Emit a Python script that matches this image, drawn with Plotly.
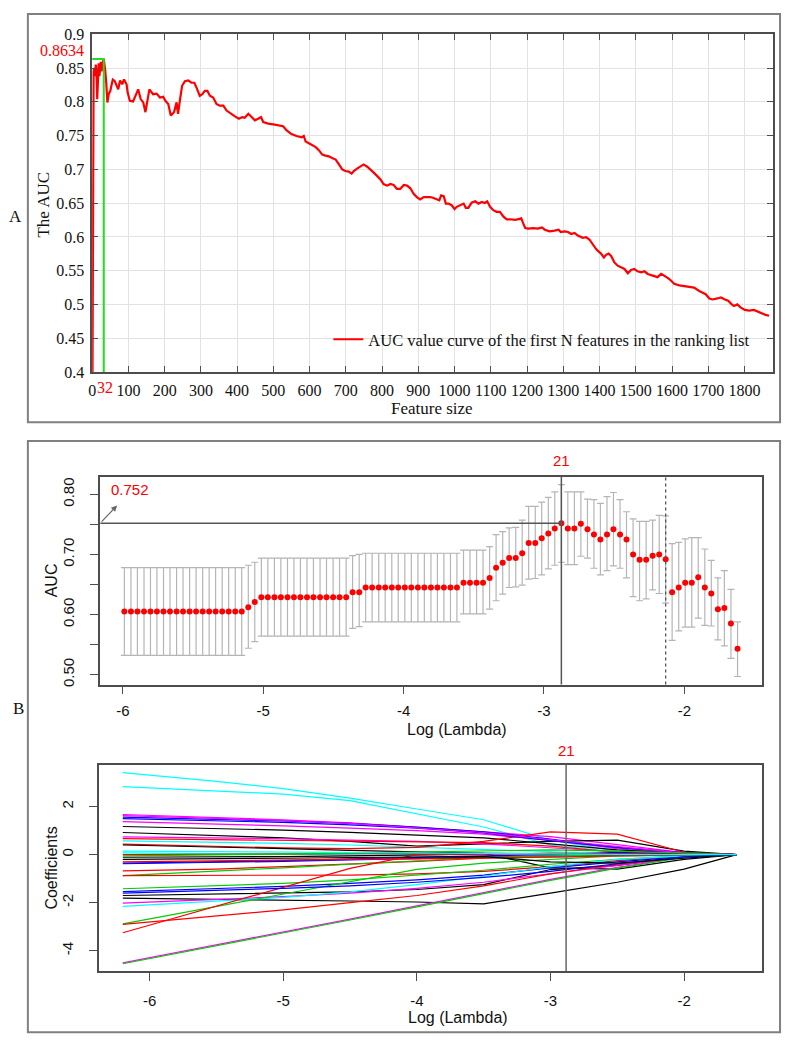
import plotly.graph_objects as go

W, H = 788, 1050

# ---------------- Panel A data ----------------
feature_size = [1, 2, 4, 6, 8, 10, 12, 14, 16, 18, 20, 22, 24, 26, 28, 30, 32, 34, 36, 39, 42, 46, 50, 54, 57,
                62, 66, 72, 77, 83, 88, 95, 98, 104, 113, 120, 127, 134, 141, 147, 153, 158, 168, 178, 187,
                196, 202, 210, 217, 226, 233, 237, 242, 248, 256, 265, 274, 282, 288, 297, 304, 311, 318, 325,
                334, 343, 352, 362, 371, 383, 394, 405, 414, 421, 431, 440, 449, 458, 466, 472, 486, 500, 513,
                527, 536, 550, 564, 578, 584, 589, 598, 607, 617, 626, 635, 644, 653, 662, 672, 681, 690, 699,
                708, 716, 722, 731, 740, 749, 759, 768, 777, 786, 795, 804, 814, 823, 832, 841, 850, 860, 869,
                878, 887, 896, 905, 915, 924, 933, 942, 951, 958, 963, 970, 976, 983, 992, 1000, 1006, 1015,
                1025, 1031, 1038, 1047, 1057, 1066, 1075, 1084, 1090, 1098, 1107, 1116, 1125, 1135, 1144, 1153,
                1167, 1180, 1184, 1189, 1195, 1203, 1217, 1230, 1241, 1249, 1262, 1276, 1287, 1293, 1304, 1313,
                1322, 1331, 1340, 1354, 1363, 1372, 1382, 1391, 1404, 1412, 1418, 1425, 1432, 1441, 1450, 1460,
                1469, 1478, 1487, 1496, 1505, 1515, 1524, 1533, 1547, 1560, 1570, 1579, 1588, 1597, 1606, 1620,
                1634, 1647, 1661, 1675, 1684, 1693, 1703, 1712, 1725, 1735, 1746, 1755, 1764, 1771, 1780, 1790,
                1801, 1813, 1826, 1837, 1849, 1858, 1868]
auc_value = [0.40, 0.825, 0.845, 0.850, 0.838, 0.855, 0.845, 0.804, 0.850, 0.857, 0.838, 0.852, 0.859, 0.845,
             0.857, 0.860, 0.8634, 0.856, 0.847, 0.828, 0.799, 0.812, 0.816, 0.826, 0.833, 0.831, 0.826, 0.8185,
             0.8316, 0.826, 0.8331, 0.826, 0.8137, 0.8016, 0.8006, 0.8089, 0.8185, 0.804, 0.7992, 0.7847,
             0.804, 0.8185, 0.8113, 0.8122, 0.8064, 0.8074, 0.8016, 0.7968, 0.7798, 0.7847, 0.7992, 0.7822,
             0.8016, 0.8234, 0.8306, 0.8316, 0.8282, 0.8282, 0.821, 0.8089, 0.8113, 0.8161, 0.8161, 0.8089,
             0.8064, 0.7968, 0.7943, 0.7943, 0.7871, 0.7822, 0.7784, 0.775, 0.7774, 0.7764, 0.7822, 0.7774,
             0.7726, 0.775, 0.7774, 0.7701, 0.7677, 0.7667, 0.7653, 0.7638, 0.758, 0.7522, 0.7493, 0.7474,
             0.7495, 0.7411, 0.7387, 0.7362, 0.7329, 0.728, 0.7218, 0.7203, 0.7193, 0.7169, 0.7145, 0.7073,
             0.700, 0.6976, 0.6966, 0.6937, 0.6976, 0.701, 0.7048, 0.7073, 0.7039, 0.700, 0.6952, 0.6904,
             0.6855, 0.6783, 0.6759, 0.6783, 0.6768, 0.671, 0.671, 0.6768, 0.6759, 0.672, 0.6638, 0.659,
             0.6556, 0.659, 0.659, 0.659, 0.6575, 0.6556, 0.6541, 0.6614, 0.6604, 0.6493, 0.6493, 0.6469,
             0.6411, 0.6445, 0.6469, 0.6493, 0.643, 0.643, 0.6508, 0.6527, 0.6493, 0.6517, 0.6503, 0.6527,
             0.6445, 0.6396, 0.6372, 0.6372, 0.630, 0.6261, 0.6261, 0.6252, 0.6266, 0.6277, 0.6204, 0.6131,
             0.6122, 0.6131, 0.6122, 0.6141, 0.6107, 0.6083, 0.6093, 0.6107, 0.6073, 0.6083, 0.6073, 0.6044,
             0.6059, 0.602, 0.5986, 0.5996, 0.5962, 0.5889, 0.5816, 0.5753, 0.5695, 0.5734, 0.5753, 0.5719,
             0.5622, 0.5574, 0.5549, 0.5525, 0.5462, 0.5511, 0.5525, 0.5491, 0.5477, 0.5491, 0.5452, 0.5428,
             0.5404, 0.5452, 0.5428, 0.5394, 0.5355, 0.5307, 0.5283, 0.5268, 0.5258, 0.5249, 0.52, 0.5171,
             0.5152, 0.5089, 0.5074, 0.5089, 0.5103, 0.5074, 0.5055, 0.5006, 0.4977, 0.5001, 0.4953, 0.4919,
             0.4909, 0.4919, 0.4895, 0.4861, 0.4846, 0.4832]
a_xticks = list(range(0, 1900, 100))
a_yticks = [0.4, 0.45, 0.5, 0.55, 0.6, 0.65, 0.7, 0.75, 0.8, 0.85, 0.9]
a_ytext = ["0.4", "0.45", "0.5", "0.55", "0.6", "0.65", "0.7", "0.75", "0.8", "0.85", "0.9"]
legend_label = "AUC value curve of the first N features in the ranking list"

# ---------------- Panel B (CV AUC) data ----------------
log_lambda_cv = [-5.989, -5.942, -5.896, -5.849, -5.803, -5.757, -5.710, -5.664, -5.617, -5.571,
                 -5.524, -5.478, -5.431, -5.385, -5.339, -5.292, -5.246, -5.199, -5.153, -5.106,
                 -5.060, -5.013, -4.967, -4.920, -4.874, -4.827, -4.781, -4.735, -4.688, -4.642,
                 -4.595, -4.549, -4.502, -4.456, -4.409, -4.363, -4.316, -4.270, -4.224, -4.177,
                 -4.131, -4.084, -4.038, -3.991, -3.945, -3.898, -3.852, -3.805, -3.759, -3.713,
                 -3.666, -3.620, -3.573, -3.527, -3.480, -3.434, -3.387, -3.341, -3.294, -3.248,
                 -3.201, -3.155, -3.109, -3.062, -3.016, -2.969, -2.923, -2.876, -2.830, -2.783,
                 -2.737, -2.690, -2.644, -2.598, -2.551, -2.505, -2.458, -2.412, -2.365, -2.319,
                 -2.272, -2.226, -2.179, -2.133, -2.087, -2.040, -1.994, -1.947, -1.901, -1.854,
                 -1.808, -1.761, -1.715, -1.668, -1.621]
cv_auc = [0.605, 0.605, 0.605, 0.605, 0.605, 0.605, 0.605, 0.605, 0.605, 0.605,
          0.605, 0.605, 0.605, 0.605, 0.605, 0.605, 0.605, 0.605, 0.605, 0.612,
          0.621, 0.629, 0.629, 0.629, 0.629, 0.629, 0.629, 0.629, 0.629, 0.629,
          0.629, 0.629, 0.629, 0.629, 0.629, 0.637, 0.637, 0.645, 0.645, 0.645,
          0.645, 0.645, 0.645, 0.645, 0.645, 0.645, 0.645, 0.645, 0.645, 0.645,
          0.645, 0.645, 0.653, 0.653, 0.653, 0.653, 0.661, 0.678, 0.686, 0.694,
          0.694, 0.702, 0.719, 0.719, 0.727, 0.735, 0.743, 0.752, 0.743, 0.743,
          0.751, 0.742, 0.733, 0.725, 0.733, 0.742, 0.733, 0.725, 0.700, 0.691,
          0.691, 0.698, 0.700, 0.692, 0.637, 0.645, 0.653, 0.653, 0.662, 0.645,
          0.635, 0.609, 0.611, 0.585, 0.543]
cv_upper = [0.678, 0.678, 0.678, 0.678, 0.678, 0.678, 0.678, 0.678, 0.678, 0.678,
            0.678, 0.678, 0.678, 0.678, 0.678, 0.678, 0.678, 0.678, 0.678, 0.682,
            0.687, 0.694, 0.694, 0.694, 0.694, 0.694, 0.694, 0.694, 0.694, 0.694,
            0.694, 0.694, 0.694, 0.694, 0.694, 0.698, 0.700, 0.702, 0.702, 0.702,
            0.702, 0.702, 0.702, 0.702, 0.702, 0.702, 0.702, 0.702, 0.702, 0.702,
            0.702, 0.702, 0.707, 0.707, 0.707, 0.707, 0.713, 0.733, 0.738, 0.744,
            0.745, 0.757, 0.780, 0.780, 0.787, 0.795, 0.804, 0.816, 0.804, 0.804,
            0.804, 0.792, 0.791, 0.785, 0.796, 0.803, 0.791, 0.771, 0.759, 0.755,
            0.755, 0.757, 0.765, 0.764, 0.718, 0.720, 0.726, 0.728, 0.728, 0.709,
            0.690, 0.661, 0.673, 0.642, 0.588]
cv_lower = [0.532, 0.532, 0.532, 0.532, 0.532, 0.532, 0.532, 0.532, 0.532, 0.532,
            0.532, 0.532, 0.532, 0.532, 0.532, 0.532, 0.532, 0.532, 0.532, 0.544,
            0.555, 0.564, 0.564, 0.564, 0.564, 0.564, 0.564, 0.564, 0.564, 0.564,
            0.564, 0.564, 0.564, 0.564, 0.564, 0.577, 0.580, 0.588, 0.588, 0.588,
            0.588, 0.588, 0.588, 0.588, 0.588, 0.588, 0.588, 0.588, 0.588, 0.588,
            0.588, 0.588, 0.601, 0.601, 0.601, 0.601, 0.609, 0.623, 0.634, 0.645,
            0.646, 0.649, 0.659, 0.660, 0.666, 0.676, 0.682, 0.687, 0.683, 0.683,
            0.697, 0.694, 0.677, 0.666, 0.673, 0.681, 0.677, 0.661, 0.630, 0.623,
            0.626, 0.641, 0.635, 0.619, 0.557, 0.573, 0.579, 0.579, 0.594, 0.582,
            0.581, 0.558, 0.548, 0.527, 0.497]
idx_1se = 83
n_selected = 21

# ---------------- Panel B (coefficient paths) data ----------------
coef_log_lambda = [-6.201, -5.5, -5.0, -4.5, -4.0, -3.5, -3.0, -2.5, -2.0, -1.606]
coef_colors = ["cyan", "cyan", "magenta", "blue", "magenta", "black", "black", "magenta", "red",
               "cyan", "red", "black", "cyan", "red", "black", "blue", "blue", "red", "green",
               "red", "green", "blue", "black", "black", "magenta", "cyan", "green", "red", "red",
               "magenta", "green", "blue", "magenta", "green", "red", "blue", "black", "cyan"]
coef_paths = [
    [3.41, 3.05, 2.75, 2.35, 1.90, 1.45, 0.60, 0.15, 0.05, 0],
    [2.83, 2.66, 2.52, 2.25, 1.70, 1.15, 0.40, 0.12, 0.03, 0],
    [1.67, 1.55, 1.45, 1.32, 1.15, 0.95, 0.75, 0.40, 0.08, 0],
    [1.56, 1.48, 1.40, 1.30, 1.15, 0.95, 0.65, 0.28, 0.05, 0],
    [1.37, 1.28, 1.20, 1.10, 1.00, 0.85, 0.60, 0.25, 0.05, 0],
    [1.17, 1.10, 1.02, 0.93, 0.82, 0.70, 0.45, 0.20, 0.05, 0],
    [0.92, 0.80, 0.70, 0.55, 0.35, 0.45, 0.55, 0.60, 0.15, 0],
    [0.74, 0.70, 0.66, 0.60, 0.55, 0.45, 0.30, 0.12, 0.02, 0],
    [0.67, 0.62, 0.58, 0.55, 0.52, 0.50, 0.35, 0.10, 0.02, 0],
    [0.57, 0.52, 0.47, 0.40, 0.30, 0.20, 0.10, 0.03, 0.01, 0],
    [0.44, 0.35, 0.28, 0.25, 0.30, 0.55, 0.95, 0.85, 0.10, 0],
    [0.40, 0.33, 0.25, 0.18, 0.10, 0.05, -0.55, -0.60, -0.20, 0],
    [0.07, 0.05, 0.02, -0.02, -0.05, -0.08, -0.10, -0.05, -0.01, 0],
    [0.00, 0.02, 0.04, 0.05, 0.06, 0.06, 0.04, 0.02, 0.01, 0],
    [-0.11, -0.10, -0.08, -0.05, 0.00, 0.03, 0.05, 0.03, 0.01, 0],
    [-0.35, -0.30, -0.25, -0.18, -0.10, -0.05, 0.00, 0.10, 0.02, 0],
    [-0.38, -0.33, -0.28, -0.22, -0.15, -0.10, -0.05, -0.02, 0.00, 0],
    [-0.68, -0.60, -0.50, -0.40, -0.28, -0.15, -0.05, 0.00, 0.00, 0],
    [-0.87, -0.70, -0.55, -0.40, -0.25, -0.12, -0.05, 0.00, 0.00, 0],
    [-0.87, -0.87, -0.86, -0.85, -0.80, -0.70, -0.50, -0.25, -0.05, 0],
    [-1.42, -1.30, -1.20, -1.05, -0.85, -0.65, -0.40, -0.20, -0.05, 0],
    [-1.54, -1.42, -1.32, -1.20, -1.05, -0.85, -0.55, -0.30, -0.08, 0],
    [-1.70, -1.65, -1.60, -1.55, -1.45, -1.25, -0.62, -0.45, -0.10, 0],
    [-1.81, -1.85, -1.88, -1.93, -1.97, -2.05, -1.60, -1.15, -0.60, 0],
    [-2.02, -1.88, -1.75, -1.60, -1.40, -1.15, -0.80, -0.45, -0.10, 0],
    [-2.15, -1.95, -1.78, -1.55, -1.25, -0.90, -0.50, -0.20, -0.05, 0],
    [-2.88, -2.15, -1.64, -1.12, -0.61, -0.35, -0.20, -0.05, 0.00, 0],
    [-2.90, -2.55, -2.30, -2.00, -1.70, -1.30, -0.80, -0.40, -0.10, 0],
    [-3.25, -2.14, -1.36, -0.57, 0.00, 0.02, 0.05, 0.02, 0.00, 0],
    [-4.50, -3.76, -3.23, -2.68, -2.13, -1.58, -1.03, -0.53, -0.10, 0],
    [-4.54, -3.80, -3.27, -2.72, -2.17, -1.62, -1.07, -0.56, -0.12, 0],
    [1.50, 1.42, 1.34, 1.24, 1.10, 0.90, 0.58, 0.30, 0.08, 0],
    [1.62, 1.52, 1.42, 1.30, 1.12, 0.92, 0.62, 0.35, 0.06, 0],
    [-0.05, -0.02, 0.02, 0.06, 0.10, 0.15, 0.20, 0.15, 0.05, 0],
    [-0.30, -0.25, -0.22, -0.20, -0.18, -0.15, -0.10, -0.05, -0.02, 0],
    [-1.60, -1.50, -1.40, -1.30, -1.15, -0.95, -0.70, -0.38, -0.09, 0],
    [-0.20, -0.18, -0.15, -0.12, -0.10, -0.08, -0.30, -0.35, -0.15, 0],
    [0.15, 0.12, 0.10, 0.08, 0.05, 0.03, 0.02, 0.01, 0.00, 0],
]
lower_lambda_min = -2.883

# ---------------- helpers (layout positions) ----------------
def px(x):
    return x / W

def py(y):
    return 1 - y / H

SERIF = "Liberation Serif"
SANS = "Liberation Sans"
R_COLORS = {"green": "#00CD00", "cyan": "#00FFFF", "magenta": "#FF00FF",
            "blue": "#0000FF", "red": "#FF0000", "black": "#000000"}

fig = go.Figure()

# Panel A
best_i = max(range(len(auc_value)), key=lambda i: auc_value[i])
best_n, best_auc = feature_size[best_i], auc_value[best_i]
fig.add_trace(go.Scatter(x=feature_size, y=auc_value, mode="lines", name=legend_label,
                         line=dict(color="#ff0000", width=2.2), xaxis="x", yaxis="y", showlegend=True))
fig.add_trace(go.Scatter(x=[0, best_n, best_n], y=[best_auc, best_auc, a_yticks[0]], mode="lines",
                         line=dict(color="#22dd22", width=2), xaxis="x", yaxis="y", showlegend=False))

# Panel B top
fig.add_trace(go.Scatter(
    x=log_lambda_cv, y=cv_auc, mode="markers", xaxis="x2", yaxis="y2", showlegend=False,
    marker=dict(color="#ff0000", size=6),
    error_y=dict(type="data", symmetric=False,
                 array=[u - m for u, m in zip(cv_upper, cv_auc)],
                 arrayminus=[m - l for m, l in zip(cv_auc, cv_lower)],
                 color="#b5b5b5", thickness=1.2, width=3.5)))

# Panel B bottom
for path, col in zip(coef_paths, coef_colors):
    fig.add_trace(go.Scatter(x=coef_log_lambda, y=path, mode="lines", xaxis="x3", yaxis="y3",
                             showlegend=False, line=dict(color=R_COLORS[col], width=1.2)))

idx_min = max(range(len(cv_auc)), key=lambda i: cv_auc[i])
lam_min = log_lambda_cv[idx_min]
lam_1se = log_lambda_cv[idx_1se]
auc_max = cv_auc[idx_min]

x2_range = [-6.161, -1.448]
y2_range = [0.4836, 0.8288]
x3_range = [-6.383, -1.418]
y3_range = [-4.848, 3.748]

AX = "#4d4d4d"
a_axis_common = dict(showline=True, linecolor=AX, linewidth=1.5, mirror="ticks", ticks="inside",
                     ticklen=6, tickcolor=AX, showgrid=True, gridcolor="#e2e2e2", gridwidth=1,
                     zeroline=False, tickfont=dict(family=SERIF, size=16, color="#111"))
b_axis_common = dict(showline=True, linecolor=AX, linewidth=1.5, mirror=True, ticks="outside",
                     ticklen=8, tickcolor=AX, showgrid=False, zeroline=False,
                     tickfont=dict(family=SANS, size=15, color="#111"))

fig.update_layout(
    width=W, height=H, margin=dict(l=0, r=0, t=0, b=0),
    paper_bgcolor="white", plot_bgcolor="white",
    xaxis=dict(domain=[px(88.6), px(772.7)], anchor="y", range=[0, 1878], tickvals=a_xticks,
               ticklabelstandoff=3, **a_axis_common),
    yaxis=dict(domain=[py(370), py(26.7)], anchor="x", range=[0.4, 0.9], tickvals=a_yticks,
               ticktext=a_ytext, ticklabelstandoff=3, **a_axis_common),
    xaxis2=dict(domain=[px(96.7), px(761.7)], anchor="y2", range=x2_range, ticklabelstandoff=4,
                tickvals=[-6, -5, -4, -3, -2], ticktext=["-6", "-5", "-4", "-3", "-2"], **b_axis_common),
    yaxis2=dict(domain=[py(687.7), py(476.7)], anchor="x2", range=y2_range, ticklabelstandoff=10,
                tickvals=[0.5, 0.55, 0.6, 0.65, 0.7, 0.75, 0.8],
                ticktext=["0.50", "", "0.60", "", "0.70", "", "0.80"], tickangle=-90, **b_axis_common),
    xaxis3=dict(domain=[px(95), px(761.7)], anchor="y3", range=x3_range, ticklabelstandoff=7,
                tickvals=[-6, -5, -4, -3, -2], ticktext=["-6", "-5", "-4", "-3", "-2"], **b_axis_common),
    yaxis3=dict(domain=[py(979), py(769)], anchor="x3", range=y3_range, ticklabelstandoff=10,
                tickvals=[-4, -2, 0, 2], ticktext=["-4", "-2", "0", "2"], tickangle=-90, **b_axis_common),
    legend=dict(x=px(326), y=py(337), xanchor="left", yanchor="middle", bgcolor="rgba(0,0,0,0)",
                borderwidth=0, font=dict(family=SERIF, size=16.5, color="#111")),
)

shapes = [
    dict(type="rect", xref="paper", yref="paper", x0=px(24), x1=px(780), y0=py(421), y1=py(6),
         line=dict(color="#808080", width=2)),
    dict(type="rect", xref="paper", yref="paper", x0=px(24), x1=px(780), y0=py(1041), y1=py(440),
         line=dict(color="#808080", width=2)),
    dict(type="line", xref="x2", yref="y2 domain", x0=lam_min, x1=lam_min, y0=0, y1=1,
         line=dict(color="#555", width=1.5)),
    dict(type="line", xref="x2", yref="y2 domain", x0=lam_1se, x1=lam_1se, y0=0, y1=1,
         line=dict(color="#555", width=1.3, dash="dot")),
    dict(type="line", xref="x2", yref="y2", x0=x2_range[0], x1=lam_min, y0=auc_max, y1=auc_max,
         line=dict(color="#555", width=1.5)),
    dict(type="line", xref="x3", yref="y3 domain", x0=lower_lambda_min, x1=lower_lambda_min, y0=0, y1=1,
         line=dict(color="#666", width=1.5)),
]
fig.update_layout(shapes=shapes)


def label(text, x, y, size, family, color="#111", angle=0, xref="paper", yref="paper", **kw):
    d = dict(text=text, x=x, y=y, xref=xref, yref=yref, showarrow=False, textangle=angle,
             xanchor="center", yanchor="middle", font=dict(family=family, size=size, color=color))
    d.update(kw)
    return d


ann = [
    label("A", px(12), py(212), 17, SERIF),
    label("B", px(15), py(712), 17, SERIF),
    label("The AUC", px(40), py(200), 17, SERIF, angle=-90),
    label("Feature size", px(430), py(407), 17, SERIF),
    label(f"{best_auc:.4f}", px(82), best_auc, 16, SERIF, color="#ff0000", yref="y",
          xanchor="right", yshift=8),
    label(str(best_n), best_n, py(386), 16, SERIF, color="#ff0000", xref="x", xshift=1),
    label("AUC", px(48), py(582), 16, SANS, angle=-90),
    label("Log (Lambda)", px(455), py(733), 16, SANS),
    label("Coefficients", px(48), py(874), 16, SANS, angle=-90),
    label("Log (Lambda)", px(456), py(1026), 16, SANS),
    label(str(n_selected), lam_min, py(460), 15, SANS, color="#ff0000", xref="x2"),
    label(str(n_selected), lower_lambda_min, py(755), 15, SANS, color="#ff0000", xref="x3"),
    label(f"{auc_max:.3f}", x2_range[0], auc_max, 15, SANS, color="#ff0000", xref="x2", yref="y2",
          xanchor="left", xshift=9, yshift=34),
    dict(text="", x=x2_range[0] + 17 / 141.1, y=auc_max + 18 / 611.3, xref="x2", yref="y2",
         ax=x2_range[0], ay=auc_max, axref="x2", ayref="y2", showarrow=True,
         arrowhead=2, arrowsize=1, arrowwidth=1.2, arrowcolor="#666"),
]
fig.update_layout(annotations=ann)

fig.write_html("out.html", post_script="document.body.style.margin='0';",
               config={"displayModeBar": False})
